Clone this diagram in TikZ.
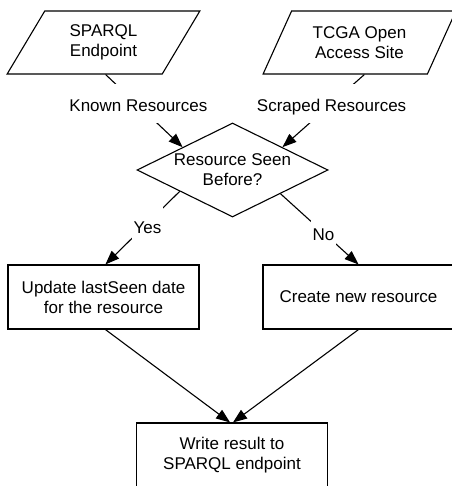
\documentclass[tikz,border=0pt]{standalone}
\usepackage{fontspec}
\setmainfont{Liberation Sans}
\usetikzlibrary{shapes.geometric,arrows.meta,calc}
\tikzset{
  base/.style={draw=black, line width=1.1pt, font=\fontsize{17}{20}\selectfont, align=center},
  iobox/.style={base, trapezium, trapezium left angle=58.5, trapezium right angle=121.5,
    trapezium stretches=true, minimum width=193pt, minimum height=63pt, inner sep=0pt},
  decision/.style={base, diamond, aspect=2.03, minimum width=191pt, minimum height=94pt, inner sep=-4pt},
  procbox/.style={base, rectangle, minimum width=191pt, minimum height=64pt, inner sep=0pt},
  flow/.style={line width=1.1pt, -{Triangle[length=14pt,width=10.5pt]}},
  lbl/.style={fill=white, font=\fontsize{17}{20}\selectfont, text height=16pt, text depth=0pt,
    minimum height=39pt, inner xsep=2pt, inner ysep=0pt}
}
\begin{document}
\begin{tikzpicture}[x=1pt,y=-1pt]
\useasboundingbox (0,0) rectangle (451,486);
\node[iobox] (p1) at (103.5,42.5) {SPARQL\\Endpoint};
\node[iobox] (p2) at (359.5,42.5) {TCGA Open\\Access Site};
\node[decision] (d) at (232.5,170) {Resource Seen\\Before?};
\node[procbox] (lb) at (103.5,297) {Update lastSeen date\\for the resource};
\node[procbox] (rb) at (358.5,297) {Create new resource};
\node[procbox] (bb) at (232,455) {Write result to\\SPARQL endpoint};

\coordinate (k1) at ($(p1.bottom left corner)!0.636!(p1.bottom right corner)$);
\coordinate (k2) at ($(d.west)!0.48!(d.north)$);
\coordinate (s1) at ($(p2.bottom left corner)!0.617!(p2.bottom right corner)$);
\coordinate (s2) at ($(d.north)!0.52!(d.east)$);
\coordinate (y1) at ($(d.west)!0.45!(d.south)$);
\coordinate (y2) at ($(lb.north west)!0.51!(lb.north east)$);
\coordinate (n1) at ($(d.south)!0.5!(d.east)$);
\coordinate (n2) at (rb.north);
\coordinate (l1) at ($(lb.south west)!0.51!(lb.south east)$);
\coordinate (l2) at ($(bb.north west)!0.49!(bb.north east)$);
\coordinate (r1) at (rb.south);
\coordinate (r2) at ($(bb.north west)!0.505!(bb.north east)$);

\draw[flow] (k1) -- node[lbl, pos=0.40, xshift=2pt] {Known Resources} (k2);
\draw[flow] (s1) -- node[lbl, pos=0.40] {Scraped Resources} (s2);
\draw[flow] (y1) -- node[lbl, pos=0.46, xshift=2pt] {Yes} (y2);
\draw[flow] (n1) -- node[lbl, pos=0.55] {No} (n2);
\draw[flow] (l1) -- (l2);
\draw[flow] (r1) -- (r2);
\end{tikzpicture}
\end{document}
